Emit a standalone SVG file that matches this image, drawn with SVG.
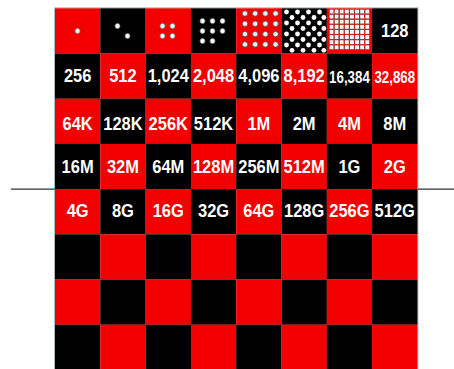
<svg xmlns="http://www.w3.org/2000/svg" width="454" height="369" viewBox="0 0 454 369">
<style>
.r{fill:#f20000}
.k{fill:#000}
.t{font-family:"Liberation Sans",Arial,sans-serif;font-weight:bold;font-size:16.5px;fill:#fff;text-anchor:middle}
.s{font-size:13.3px}
.d{fill:#f6fbfb;stroke:#808080;stroke-width:0.8}
.d2{fill:#e2f4f4;stroke:#555;stroke-width:0.8}
.g{fill:#eef8f8;stroke:#8a2020;stroke-width:0.4}
.ln{stroke:#333;stroke-width:1.3;fill:none}
</style>
<rect width="454" height="369" fill="#fff"/>
<g id="board">
<rect x="54.5" y="7.8" width="363.4" height="370" fill="none" stroke="#a8bcc4" stroke-width="1"/>
<!-- row 0 -->
<g id="cell-1"><rect class="r" x="55" y="8.3" width="45.4" height="45.3"/><circle class="d" cx="77.5" cy="31" r="2.5"/></g>
<g id="cell-2"><rect class="k" x="100.3" y="8.3" width="45.4" height="45.3"/><circle class="d" cx="117.5" cy="26" r="2.5"/><circle class="d" cx="127.5" cy="36" r="2.5"/></g>
<g id="cell-4"><rect class="r" x="145.6" y="8.3" width="45.4" height="45.3"/><circle class="d" cx="162.5" cy="26" r="2.5"/><circle class="d" cx="172.5" cy="26" r="2.5"/><circle class="d" cx="162.5" cy="36" r="2.5"/><circle class="d" cx="172.5" cy="36" r="2.5"/></g>
<g id="cell-8"><rect class="k" x="190.9" y="8.3" width="45.4" height="45.3"/><circle class="d" cx="202.5" cy="21" r="2.5"/><circle class="d" cx="212.5" cy="21" r="2.5"/><circle class="d" cx="222.5" cy="21" r="2.5"/><circle class="d" cx="202.5" cy="31" r="2.5"/><circle class="d" cx="212.5" cy="31" r="2.5"/><circle class="d" cx="222.5" cy="31" r="2.5"/><circle class="d" cx="202.5" cy="41" r="2.5"/><circle class="d" cx="212.5" cy="41" r="2.5"/></g>
<g id="cell-16"><rect class="r" x="236.2" y="8.3" width="45.4" height="45.3"/>
<circle class="d2" cx="245" cy="13.5" r="2.7"/><circle class="d2" cx="255.2" cy="13.5" r="2.7"/><circle class="d2" cx="265.4" cy="13.5" r="2.7"/><circle class="d2" cx="275.6" cy="13.5" r="2.7"/>
<circle class="d2" cx="245" cy="23.8" r="2.7"/><circle class="d2" cx="255.2" cy="23.8" r="2.7"/><circle class="d2" cx="265.4" cy="23.8" r="2.7"/><circle class="d2" cx="275.6" cy="23.8" r="2.7"/>
<circle class="d2" cx="245" cy="34.1" r="2.7"/><circle class="d2" cx="255.2" cy="34.1" r="2.7"/><circle class="d2" cx="265.4" cy="34.1" r="2.7"/><circle class="d2" cx="275.6" cy="34.1" r="2.7"/>
<circle class="d2" cx="245" cy="44.4" r="2.7"/><circle class="d2" cx="255.2" cy="44.4" r="2.7"/><circle class="d2" cx="265.4" cy="44.4" r="2.7"/><circle class="d2" cx="275.6" cy="44.4" r="2.7"/>
</g>
<g id="cell-32"><rect class="k" x="281.5" y="8.3" width="45.4" height="45.3"/>
<g fill="#fff">
<circle cx="286.5" cy="12" r="2.4"/><circle cx="297.5" cy="12" r="2.4"/><circle cx="308.5" cy="12" r="2.4"/><circle cx="319.5" cy="12" r="2.4"/>
<circle cx="292" cy="17.5" r="2.4"/><circle cx="303" cy="17.5" r="2.4"/><circle cx="314" cy="17.5" r="2.4"/><circle cx="323.8" cy="17.5" r="2.4"/>
<circle cx="286.5" cy="23" r="2.4"/><circle cx="297.5" cy="23" r="2.4"/><circle cx="308.5" cy="23" r="2.4"/><circle cx="319.5" cy="23" r="2.4"/>
<circle cx="292" cy="28.5" r="2.4"/><circle cx="303" cy="28.5" r="2.4"/><circle cx="314" cy="28.5" r="2.4"/><circle cx="323.8" cy="28.5" r="2.4"/>
<circle cx="286.5" cy="34" r="2.4"/><circle cx="297.5" cy="34" r="2.4"/><circle cx="308.5" cy="34" r="2.4"/><circle cx="319.5" cy="34" r="2.4"/>
<circle cx="292" cy="39.5" r="2.4"/><circle cx="303" cy="39.5" r="2.4"/><circle cx="314" cy="39.5" r="2.4"/><circle cx="323.8" cy="39.5" r="2.4"/>
<circle cx="286.5" cy="45" r="2.4"/><circle cx="297.5" cy="45" r="2.4"/><circle cx="308.5" cy="45" r="2.4"/><circle cx="319.5" cy="45" r="2.4"/>
<circle cx="292" cy="50.3" r="2.4"/><circle cx="303" cy="50.3" r="2.4"/><circle cx="314" cy="50.3" r="2.4"/><circle cx="323.8" cy="50.3" r="2.4"/>
</g></g>
<g id="cell-64"><rect class="r" x="326.8" y="8.3" width="45.4" height="45.3"/>
<g class="g">
<rect x="329.4" y="9.4" width="4.3" height="4.3"/><rect x="334.5" y="9.4" width="4.3" height="4.3"/><rect x="339.6" y="9.4" width="4.3" height="4.3"/><rect x="344.7" y="9.4" width="4.3" height="4.3"/><rect x="349.8" y="9.4" width="4.3" height="4.3"/><rect x="354.9" y="9.4" width="4.3" height="4.3"/><rect x="360" y="9.4" width="4.3" height="4.3"/><rect x="365.1" y="9.4" width="4.3" height="4.3"/>
<rect x="329.4" y="14.5" width="4.3" height="4.3"/><rect x="334.5" y="14.5" width="4.3" height="4.3"/><rect x="339.6" y="14.5" width="4.3" height="4.3"/><rect x="344.7" y="14.5" width="4.3" height="4.3"/><rect x="349.8" y="14.5" width="4.3" height="4.3"/><rect x="354.9" y="14.5" width="4.3" height="4.3"/><rect x="360" y="14.5" width="4.3" height="4.3"/><rect x="365.1" y="14.5" width="4.3" height="4.3"/>
<rect x="329.4" y="19.6" width="4.3" height="4.3"/><rect x="334.5" y="19.6" width="4.3" height="4.3"/><rect x="339.6" y="19.6" width="4.3" height="4.3"/><rect x="344.7" y="19.6" width="4.3" height="4.3"/><rect x="349.8" y="19.6" width="4.3" height="4.3"/><rect x="354.9" y="19.6" width="4.3" height="4.3"/><rect x="360" y="19.6" width="4.3" height="4.3"/><rect x="365.1" y="19.6" width="4.3" height="4.3"/>
<rect x="329.4" y="24.7" width="4.3" height="4.3"/><rect x="334.5" y="24.7" width="4.3" height="4.3"/><rect x="339.6" y="24.7" width="4.3" height="4.3"/><rect x="344.7" y="24.7" width="4.3" height="4.3"/><rect x="349.8" y="24.7" width="4.3" height="4.3"/><rect x="354.9" y="24.7" width="4.3" height="4.3"/><rect x="360" y="24.7" width="4.3" height="4.3"/><rect x="365.1" y="24.7" width="4.3" height="4.3"/>
<rect x="329.4" y="29.8" width="4.3" height="4.3"/><rect x="334.5" y="29.8" width="4.3" height="4.3"/><rect x="339.6" y="29.8" width="4.3" height="4.3"/><rect x="344.7" y="29.8" width="4.3" height="4.3"/><rect x="349.8" y="29.8" width="4.3" height="4.3"/><rect x="354.9" y="29.8" width="4.3" height="4.3"/><rect x="360" y="29.8" width="4.3" height="4.3"/><rect x="365.1" y="29.8" width="4.3" height="4.3"/>
<rect x="329.4" y="34.9" width="4.3" height="4.3"/><rect x="334.5" y="34.9" width="4.3" height="4.3"/><rect x="339.6" y="34.9" width="4.3" height="4.3"/><rect x="344.7" y="34.9" width="4.3" height="4.3"/><rect x="349.8" y="34.9" width="4.3" height="4.3"/><rect x="354.9" y="34.9" width="4.3" height="4.3"/><rect x="360" y="34.9" width="4.3" height="4.3"/><rect x="365.1" y="34.9" width="4.3" height="4.3"/>
<rect x="329.4" y="40" width="4.3" height="4.3"/><rect x="334.5" y="40" width="4.3" height="4.3"/><rect x="339.6" y="40" width="4.3" height="4.3"/><rect x="344.7" y="40" width="4.3" height="4.3"/><rect x="349.8" y="40" width="4.3" height="4.3"/><rect x="354.9" y="40" width="4.3" height="4.3"/><rect x="360" y="40" width="4.3" height="4.3"/><rect x="365.1" y="40" width="4.3" height="4.3"/>
<rect x="329.4" y="45.1" width="4.3" height="4.3"/><rect x="334.5" y="45.1" width="4.3" height="4.3"/><rect x="339.6" y="45.1" width="4.3" height="4.3"/><rect x="344.7" y="45.1" width="4.3" height="4.3"/><rect x="349.8" y="45.1" width="4.3" height="4.3"/><rect x="354.9" y="45.1" width="4.3" height="4.3"/><rect x="360" y="45.1" width="4.3" height="4.3"/><rect x="365.1" y="45.1" width="4.3" height="4.3"/>
</g></g>
<g id="cell-128"><rect class="k" x="372.1" y="8.3" width="45.4" height="45.3"/><text class="t" transform="translate(394.75 37.4) scale(1 1.12)">128</text></g>
<!-- row 1 -->
<g id="cell-256"><rect class="k" x="55" y="53.5" width="45.4" height="45.3"/><text class="t" transform="translate(77.65 82.4) scale(1 1.12)">256</text></g>
<g id="cell-512"><rect class="r" x="100.3" y="53.5" width="45.4" height="45.3"/><text class="t" transform="translate(122.95 82.4) scale(1 1.12)">512</text></g>
<g id="cell-1024"><rect class="k" x="145.6" y="53.5" width="45.4" height="45.3"/><text class="t" transform="translate(168.25 82.4) scale(1 1.12)">1,024</text></g>
<g id="cell-2048"><rect class="r" x="190.9" y="53.5" width="45.4" height="45.3"/><text class="t" transform="translate(213.55 82.4) scale(1 1.12)">2,048</text></g>
<g id="cell-4096"><rect class="k" x="236.2" y="53.5" width="45.4" height="45.3"/><text class="t" transform="translate(258.85 82.4) scale(1 1.12)">4,096</text></g>
<g id="cell-8192"><rect class="r" x="281.5" y="53.5" width="45.4" height="45.3"/><text class="t" transform="translate(304.15 82.4) scale(1 1.12)">8,192</text></g>
<g id="cell-16384"><rect class="k" x="326.8" y="53.5" width="45.4" height="45.3"/><text class="t s" transform="translate(349.45 82.6) scale(1 1.2)">16,384</text></g>
<g id="cell-32868"><rect class="r" x="372.1" y="53.5" width="45.4" height="45.3"/><text class="t s" transform="translate(394.75 82.6) scale(1 1.2)">32,868</text></g>
<!-- row 2 -->
<g id="cell-64K"><rect class="r" x="55" y="98.7" width="45.4" height="45.3"/><text class="t" transform="translate(77.65 129.6) scale(1 1.12)">64K</text></g>
<g id="cell-128K"><rect class="k" x="100.3" y="98.7" width="45.4" height="45.3"/><text class="t" transform="translate(122.95 129.6) scale(1 1.12)">128K</text></g>
<g id="cell-256K"><rect class="r" x="145.6" y="98.7" width="45.4" height="45.3"/><text class="t" transform="translate(168.25 129.6) scale(1 1.12)">256K</text></g>
<g id="cell-512K"><rect class="k" x="190.9" y="98.7" width="45.4" height="45.3"/><text class="t" transform="translate(213.55 129.6) scale(1 1.12)">512K</text></g>
<g id="cell-1M"><rect class="r" x="236.2" y="98.7" width="45.4" height="45.3"/><text class="t" transform="translate(258.85 129.6) scale(1 1.12)">1M</text></g>
<g id="cell-2M"><rect class="k" x="281.5" y="98.7" width="45.4" height="45.3"/><text class="t" transform="translate(304.15 129.6) scale(1 1.12)">2M</text></g>
<g id="cell-4M"><rect class="r" x="326.8" y="98.7" width="45.4" height="45.3"/><text class="t" transform="translate(349.45 129.6) scale(1 1.12)">4M</text></g>
<g id="cell-8M"><rect class="k" x="372.1" y="98.7" width="45.4" height="45.3"/><text class="t" transform="translate(394.75 129.6) scale(1 1.12)">8M</text></g>
<!-- row 3 -->
<g id="cell-16M"><rect class="k" x="55" y="143.9" width="45.4" height="45.3"/><text class="t" transform="translate(77.65 173.3) scale(1 1.12)">16M</text></g>
<g id="cell-32M"><rect class="r" x="100.3" y="143.9" width="45.4" height="45.3"/><text class="t" transform="translate(122.95 173.3) scale(1 1.12)">32M</text></g>
<g id="cell-64M"><rect class="k" x="145.6" y="143.9" width="45.4" height="45.3"/><text class="t" transform="translate(168.25 173.3) scale(1 1.12)">64M</text></g>
<g id="cell-128M"><rect class="r" x="190.9" y="143.9" width="45.4" height="45.3"/><text class="t" transform="translate(213.55 173.3) scale(1 1.12)">128M</text></g>
<g id="cell-256M"><rect class="k" x="236.2" y="143.9" width="45.4" height="45.3"/><text class="t" transform="translate(258.85 173.3) scale(1 1.12)">256M</text></g>
<g id="cell-512M"><rect class="r" x="281.5" y="143.9" width="45.4" height="45.3"/><text class="t" transform="translate(304.15 173.3) scale(1 1.12)">512M</text></g>
<g id="cell-1G"><rect class="k" x="326.8" y="143.9" width="45.4" height="45.3"/><text class="t" transform="translate(349.45 173.3) scale(1 1.12)">1G</text></g>
<g id="cell-2G"><rect class="r" x="372.1" y="143.9" width="45.4" height="45.3"/><text class="t" transform="translate(394.75 173.3) scale(1 1.12)">2G</text></g>
<!-- row 4 -->
<g id="cell-4G"><rect class="r" x="55" y="189.1" width="45.4" height="45.3"/><text class="t" transform="translate(77.65 217.3) scale(1 1.12)">4G</text></g>
<g id="cell-8G"><rect class="k" x="100.3" y="189.1" width="45.4" height="45.3"/><text class="t" transform="translate(122.95 217.3) scale(1 1.12)">8G</text></g>
<g id="cell-16G"><rect class="r" x="145.6" y="189.1" width="45.4" height="45.3"/><text class="t" transform="translate(168.25 217.3) scale(1 1.12)">16G</text></g>
<g id="cell-32G"><rect class="k" x="190.9" y="189.1" width="45.4" height="45.3"/><text class="t" transform="translate(213.55 217.3) scale(1 1.12)">32G</text></g>
<g id="cell-64G"><rect class="r" x="236.2" y="189.1" width="45.4" height="45.3"/><text class="t" transform="translate(258.85 217.3) scale(1 1.12)">64G</text></g>
<g id="cell-128G"><rect class="k" x="281.5" y="189.1" width="45.4" height="45.3"/><text class="t" transform="translate(304.15 217.3) scale(1 1.12)">128G</text></g>
<g id="cell-256G"><rect class="r" x="326.8" y="189.1" width="45.4" height="45.3"/><text class="t" transform="translate(349.45 217.3) scale(1 1.12)">256G</text></g>
<g id="cell-512G"><rect class="k" x="372.1" y="189.1" width="45.4" height="45.3"/><text class="t" transform="translate(394.75 217.3) scale(1 1.12)">512G</text></g>
<!-- rows 5-7 (empty) -->
<g id="empty-rows">
<rect class="k" x="55" y="234.3" width="45.4" height="45.3"/><rect class="r" x="100.3" y="234.3" width="45.4" height="45.3"/><rect class="k" x="145.6" y="234.3" width="45.4" height="45.3"/><rect class="r" x="190.9" y="234.3" width="45.4" height="45.3"/><rect class="k" x="236.2" y="234.3" width="45.4" height="45.3"/><rect class="r" x="281.5" y="234.3" width="45.4" height="45.3"/><rect class="k" x="326.8" y="234.3" width="45.4" height="45.3"/><rect class="r" x="372.1" y="234.3" width="45.4" height="45.3"/>
<rect class="r" x="55" y="279.5" width="45.4" height="45.3"/><rect class="k" x="100.3" y="279.5" width="45.4" height="45.3"/><rect class="r" x="145.6" y="279.5" width="45.4" height="45.3"/><rect class="k" x="190.9" y="279.5" width="45.4" height="45.3"/><rect class="r" x="236.2" y="279.5" width="45.4" height="45.3"/><rect class="k" x="281.5" y="279.5" width="45.4" height="45.3"/><rect class="r" x="326.8" y="279.5" width="45.4" height="45.3"/><rect class="k" x="372.1" y="279.5" width="45.4" height="45.3"/>
<rect class="k" x="55" y="324.7" width="45.4" height="45.3"/><rect class="r" x="100.3" y="324.7" width="45.4" height="45.3"/><rect class="k" x="145.6" y="324.7" width="45.4" height="45.3"/><rect class="r" x="190.9" y="324.7" width="45.4" height="45.3"/><rect class="k" x="236.2" y="324.7" width="45.4" height="45.3"/><rect class="r" x="281.5" y="324.7" width="45.4" height="45.3"/><rect class="k" x="326.8" y="324.7" width="45.4" height="45.3"/><rect class="r" x="372.1" y="324.7" width="45.4" height="45.3"/>
</g>
</g>
<g id="connectors">
<line class="ln" x1="11" y1="189.2" x2="55" y2="189.2"/>
<line class="ln" x1="418" y1="189.2" x2="454" y2="189.2"/>
</g>
</svg>
